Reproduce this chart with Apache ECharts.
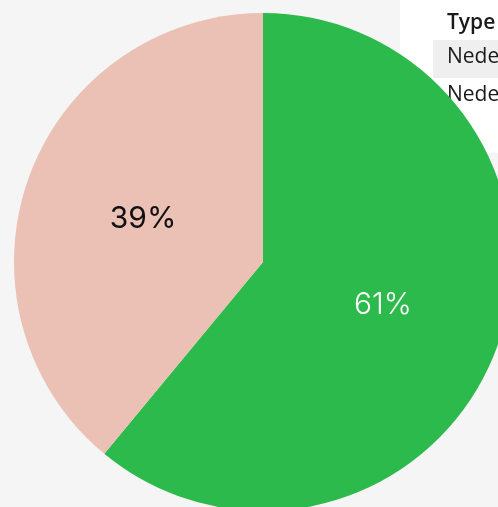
<!DOCTYPE html>
<html>
<head>
<meta charset="utf-8">
<script src="https://cdn.jsdelivr.net/npm/echarts@6/dist/echarts.min.js"></script>
<style>
  html, body { margin: 0; padding: 0; background: #f5f5f5; }
  #main { width: 498px; height: 507px; }
</style>
</head>
<body>
<div id="main"></div>
<script>
const categories = ['Nederland', 'Nederland (overig)'];
const values = [61, 39];
const colors = ['#2bba4b', '#ebc0b5'];
const labelColors = ['#ffffff', '#111111'];
const tableHeader = 'Type';
const tableRows = ['Nederland', 'Nederland (overig)'];

const mainEl = document.querySelector('#main');
let myChart = echarts.init(mainEl);

let option = {
  backgroundColor: '#f5f5f5',
  animation: false,
  series: [
    {
      type: 'pie',
      center: [263, 262],
      radius: 249,
      startAngle: 90,
      clockwise: true,
      avoidLabelOverlap: false,
      label: {
        show: true,
        position: 'inside',
        formatter: '{d}%',
        fontFamily: 'Inter',
        fontSize: 30,
        fontWeight: 400
      },
      labelLine: { show: false },
      itemStyle: { borderWidth: 0 },
      data: categories.map((c, i) => ({
        name: c,
        value: values[i],
        itemStyle: { color: colors[i] },
        label: { color: labelColors[i], fontWeight: i === 0 ? 300 : 400 }
      }))
    }
  ],
  graphic: [
    {
      type: 'group',
      left: 400,
      top: 0,
      children: [
        {
          type: 'rect',
          shape: { x: 0, y: -10, width: 110, height: 153 },
          style: { fill: '#ffffff' }
        },
        {
          type: 'rect',
          shape: { x: 33, y: 30, width: 80, height: 38 },
          style: { fill: '#efefef' }
        },
        {
          type: 'text',
          x: 47, y: 13,
          style: { text: tableHeader, font: '600 21px "Open Sans"', fill: '#1a1a1a', verticalAlign: 'middle' }
        },
        {
          type: 'text',
          x: 47, y: 47,
          style: { text: tableRows[0], font: '500 21px "Open Sans"', fill: '#1a1a1a', verticalAlign: 'middle' }
        },
        {
          type: 'text',
          x: 47, y: 85,
          style: { text: tableRows[1], font: '500 21px "Open Sans"', fill: '#1a1a1a', verticalAlign: 'middle' }
        }
      ]
    }
  ]
};

myChart.setOption(option);
</script>
</body>
</html>
